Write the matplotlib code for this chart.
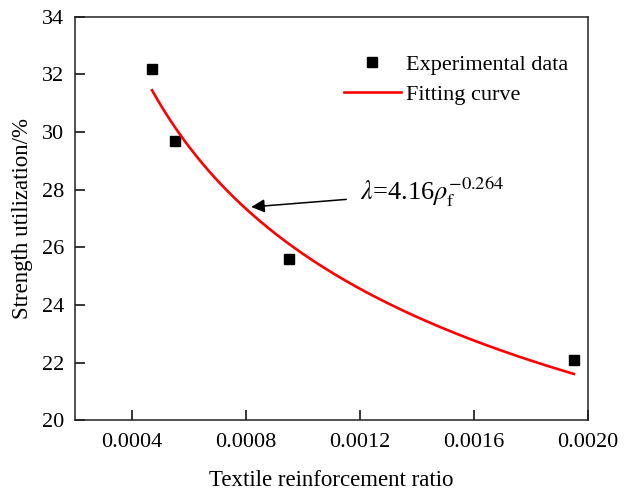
import numpy as np
import matplotlib.pyplot as plt

plt.rcParams['font.family'] = ['Liberation Serif', 'DejaVu Serif']
plt.rcParams['mathtext.fontset'] = 'stix'

# experimental points
ratio = [0.00047, 0.00055, 0.00095, 0.00195]
strength = [32.2, 29.7, 25.6, 22.1]

# fitted power law shown on the chart: lambda = a * rho^b
fit_a = 4.16
fit_b = -0.264

xticks = [0.0004, 0.0008, 0.0012, 0.0016, 0.0020]
xticklabels = ['0.0004', '0.0008', '0.0012', '0.0016', '0.0020']
yticks = [20, 22, 24, 26, 28, 30, 32, 34]

fig = plt.figure(figsize=(6.31, 4.96), dpi=100)
ax = fig.add_subplot(111)
fig.subplots_adjust(left=0.119, right=0.932, top=0.966, bottom=0.153)

xs = np.linspace(min(ratio), max(ratio), 200)
ax.plot(ratio, strength, 's', color='black', markersize=7, label='Experimental data')
ax.plot(xs, fit_a * xs ** fit_b, color='red', lw=1.9, label='Fitting curve')

ax.set_xlim(0.0002, 0.0020)
ax.set_ylim(20, 34)
ax.set_xticks(xticks)
ax.set_xticklabels(xticklabels)
ax.set_yticks(yticks)
ax.tick_params(direction='in', length=7, width=1.1, labelsize=16)
ax.tick_params(axis='x', pad=9)
ax.tick_params(axis='y', pad=8)
for s in ax.spines.values():
    s.set_linewidth(1.1)
    s.set_color('#222222')

ax.set_xlabel('Textile reinforcement ratio', fontsize=16.5, labelpad=13)
ax.set_ylabel('Strength utilization/%', fontsize=16.5, labelpad=6)

ax.annotate(r'$\lambda$=4.16$\rho_{\rm f}^{-0.264}$',
            xy=(0.000818, 27.4), xytext=(0.0012, 27.9),
            fontsize=19, va='center', ha='left',
            arrowprops=dict(arrowstyle='-|>', color='black', lw=1.1,
                            mutation_scale=20, shrinkA=8, shrinkB=0))

ax.legend(loc='upper left', bbox_to_anchor=(0.524, 0.908), frameon=False,
          fontsize=16, handlelength=2.55, handletextpad=0.25, labelspacing=0.45,
          borderpad=0, borderaxespad=0)

fig.savefig('out.png', dpi=100)
